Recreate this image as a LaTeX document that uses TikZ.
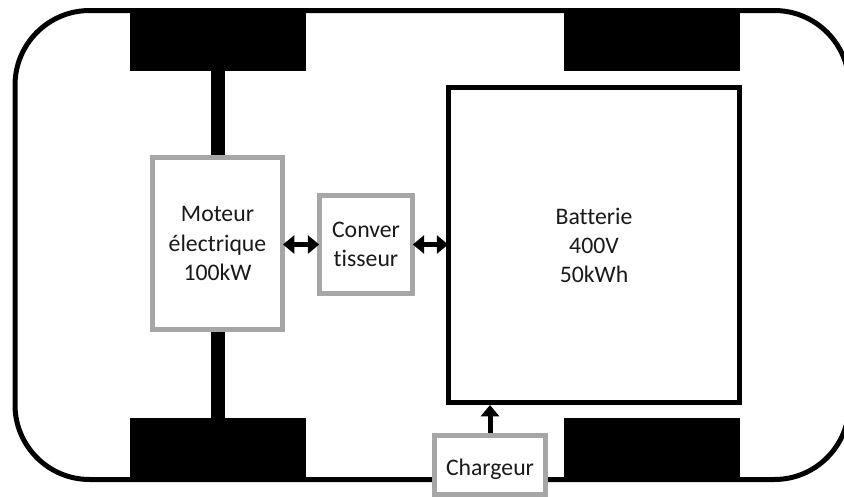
\documentclass[tikz,border=0pt]{standalone}
\usepackage{fontspec}
\setmainfont[Ligatures=NoCommon]{Carlito}
\usetikzlibrary{arrows.meta}
\definecolor{boxgray}{HTML}{A6A6A6}
\tikzset{
  boxLabel/.style={align=center,font=\fontsize{17.8}{21.8}\selectfont,text=black!90,execute at begin node={\rule{0pt}{19.5pt}}},
  grayBox/.style={shape=rectangle,draw=boxgray,fill=white,line width=3.75pt,boxLabel},
  wheelBox/.style={shape=rectangle,fill=black,inner sep=0pt,minimum width=132pt},
  axleLine/.style={line width=10.5pt},
  flowArrow/.style={line width=3.75pt,shorten <=-1.5pt,shorten >=-1.5pt,{Triangle[length=8.5pt,width=13.5pt]}-{Triangle[length=8.5pt,width=13.5pt]}},
  oneArrow/.style={line width=3.75pt,-{Triangle[length=8.5pt,width=13.5pt]}}
}
\begin{document}
\begin{tikzpicture}[x=0.75pt,y=-0.75pt]
  \useasboundingbox (0,0) rectangle (844,497);

  \node[shape=rectangle,draw=black,line width=3.75pt,rounded corners=56pt,minimum width=625.5pt,minimum height=351.75pt] (carBody) at (432,245) {};

  \node[wheelBox,minimum height=43.5pt] (wheelTopLeft) at (217.5,42) {};
  \node[wheelBox,minimum height=43.5pt] (wheelTopRight) at (651.5,42) {};
  \node[wheelBox,minimum height=48pt] (wheelBottomLeft) at (217.5,450) {};
  \node[wheelBox,minimum height=48pt] (wheelBottomRight) at (651.5,450) {};

  \node[grayBox,minimum width=97.5pt,minimum height=129pt] (moteur) at (217.5,243.5) {Moteur\\électrique\\100kW};
  \node[grayBox,minimum width=69.5pt,minimum height=73.5pt] (convertisseur) at (366,244.5) {Conver\\tisseur};
  \node[shape=rectangle,draw=black,fill=white,line width=3.75pt,boxLabel,minimum width=218pt,minimum height=236.25pt] (batterie) at (594,245) {Batterie\\400V\\50kWh};
  \node[grayBox,minimum width=83pt,minimum height=44pt] (chargeur) at (490,465) {Chargeur};

  \path [axleLine] (wheelTopLeft) edge (moteur);
  \path [axleLine] (moteur) edge (wheelBottomLeft);
  \draw [flowArrow] (moteur.east |- convertisseur.west) -- (convertisseur.west);
  \draw [flowArrow] (convertisseur.east) -- (batterie.west |- convertisseur.east);
  \draw [oneArrow] (chargeur.north) -- (batterie.south -| chargeur.north);
\end{tikzpicture}
\end{document}
